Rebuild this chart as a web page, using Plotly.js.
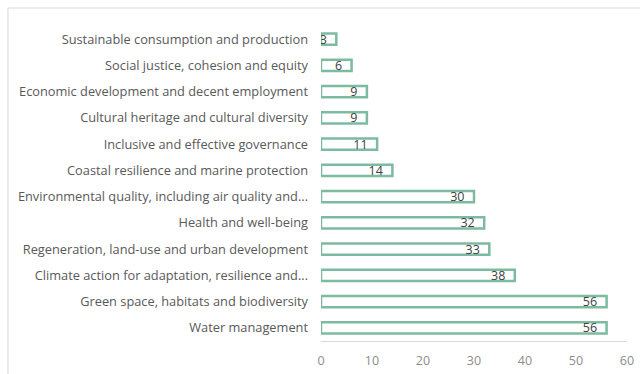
<!DOCTYPE html>
<html>
<head>
<meta charset="utf-8">
<script src="https://cdn.plot.ly/plotly-3.0.1.min.js"></script>
<style>html,body{margin:0;padding:0;background:#fff;}#chart{width:640px;height:374px;}</style>
</head>
<body>
<div id="chart"></div>
<script>
var categories = [
  "Sustainable consumption and production",
  "Social justice, cohesion and equity",
  "Economic development and decent employment",
  "Cultural heritage and cultural diversity",
  "Inclusive and effective governance",
  "Coastal resilience and marine protection",
  "Environmental quality, including air quality and...",
  "Health and well-being",
  "Regeneration, land-use and urban development",
  "Climate action for adaptation, resilience and...",
  "Green space, habitats and biodiversity",
  "Water management"
];
var values = [3, 6, 9, 9, 11, 14, 30, 32, 33, 38, 56, 56];
var xTicks = [0, 10, 20, 30, 40, 50, 60];

var trace = {
  type: 'bar',
  orientation: 'h',
  y: categories,
  x: values,
  width: 0.42,
  marker: {color: '#ffffff', line: {color: '#7dbba1', width: 2.5}},
  text: values.map(function(v){ return v + '\u00a0\u00a0'; }),
  textposition: 'inside',
  insidetextanchor: 'end',
  constraintext: 'none',
  textangle: 0,
  insidetextfont: {family: 'Open Sans, sans-serif', size: 12.5, color: '#404040'},
  hoverinfo: 'none'
};

var layout = {
  width: 640, height: 374,
  margin: {l: 321, r: 13, t: 26, b: 33},
  paper_bgcolor: '#ffffff',
  plot_bgcolor: '#ffffff',
  showlegend: false,
  font: {family: 'Open Sans, sans-serif'},
  xaxis: {
    range: [0, 60],
    tickvals: xTicks,
    ticktext: xTicks.map(String),
    showgrid: false,
    zeroline: false,
    showline: true,
    linecolor: '#d9d9d9',
    linewidth: 1,
    ticks: '',
    ticklabelstandoff: 8,
    tickfont: {size: 12.5, color: '#8c8c8c'},
    fixedrange: true
  },
  yaxis: {
    type: 'category',
    autorange: 'reversed',
    showgrid: false,
    zeroline: false,
    showline: false,
    ticks: '',
    ticklabelstandoff: 12,
    tickfont: {size: 12.8, color: '#595959'},
    fixedrange: true
  },
  shapes: [{
    type: 'rect', xref: 'paper', yref: 'paper',
    x0: -1.0229, x1: 1.3, y0: -0.3, y1: 1.0571,
    line: {color: '#d9d9d9', width: 1}, fillcolor: 'rgba(0,0,0,0)', layer: 'below'
  }]
};

Plotly.newPlot('chart', [trace], layout, {displayModeBar: false, staticPlot: true});
</script>
</body>
</html>
